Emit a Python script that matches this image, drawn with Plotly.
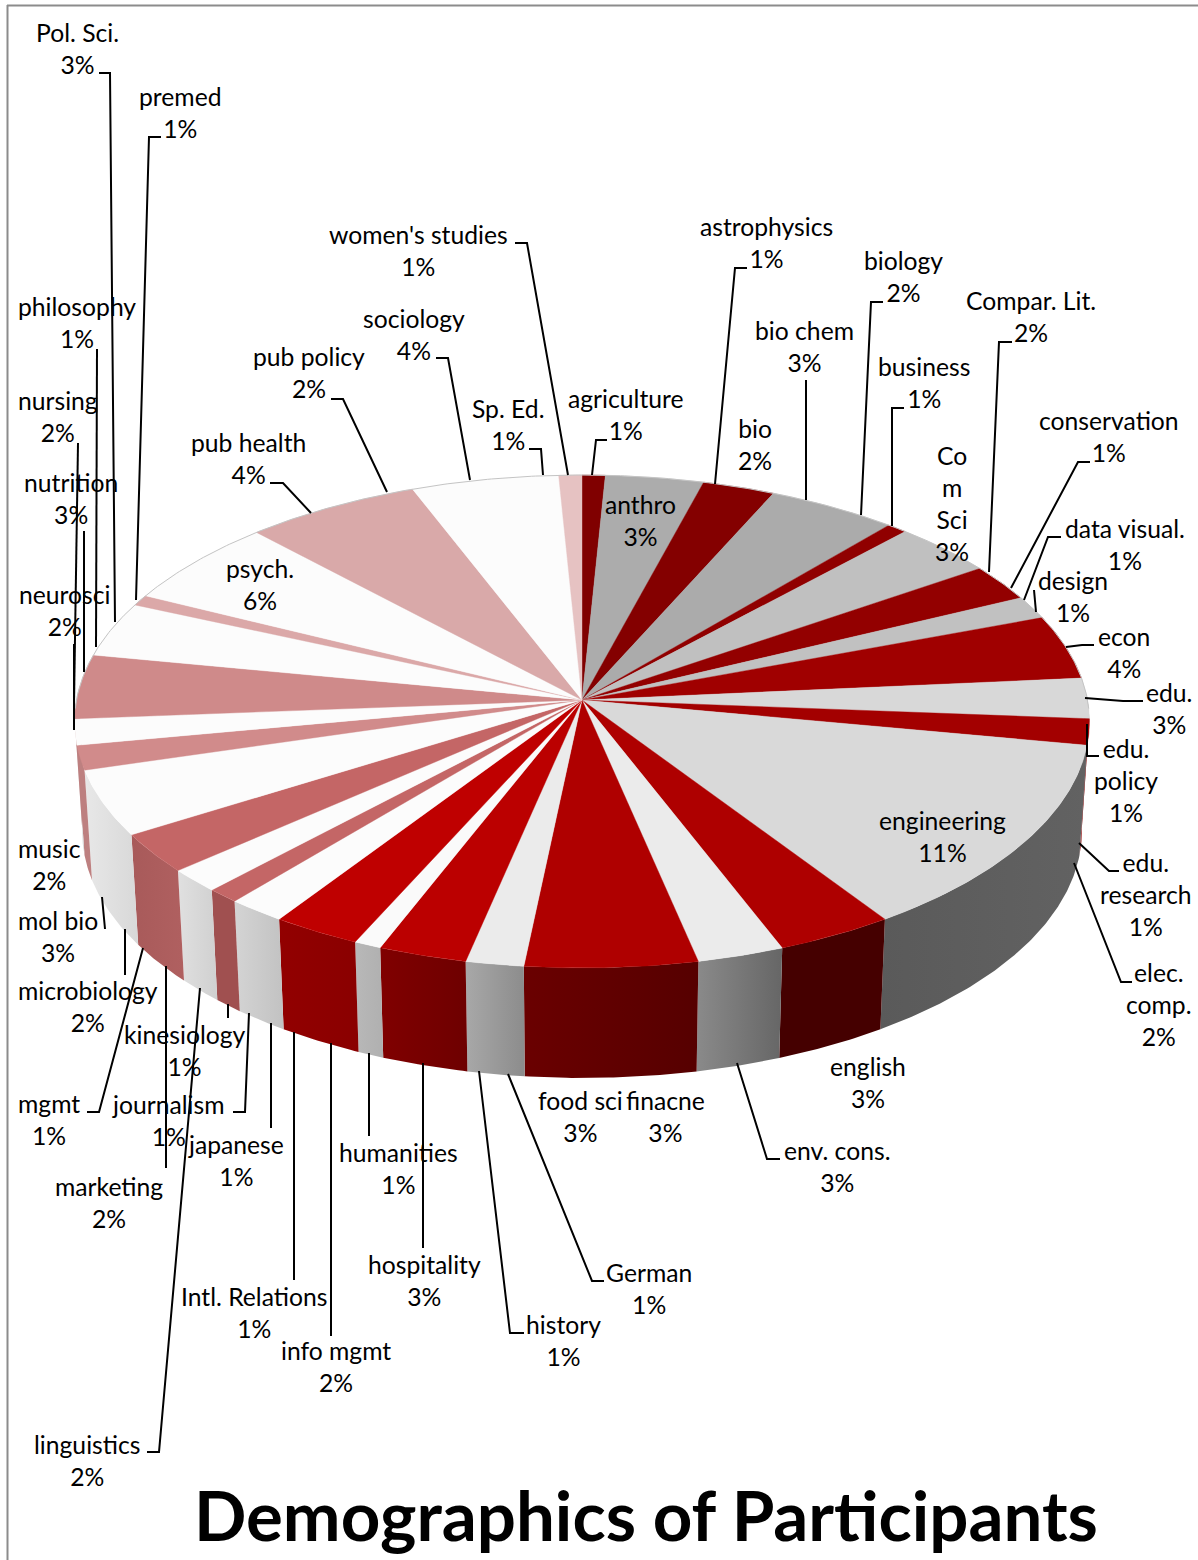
import math
import plotly.graph_objects as go

# ---------- data ----------
categories = ["agriculture","anthro","astrophysics","bio","bio chem","biology","business","Com Sci",
    "Compar. Lit.","conservation","data visual.","design","econ","edu.","edu. policy","edu. research",
    "elec. comp.","engineering","english","env. cons.","finacne","food sci","German","history",
    "hospitality","humanities","info mgmt","Intl. Relations","japanese","journalism","kinesiology",
    "linguistics","marketing","mgmt","microbiology","mol bio","music","neurosci","nursing","nutrition",
    "philosophy","Pol. Sci.","premed","psych.","pub health","pub policy","sociology","Sp. Ed.","women's studies"]
values = [0.8,3.4,1.0,1.5,2.6,1.9,0.7,3.55,1.7,0.7,0.8,0.7,4.2,2.65,1.7,0.6,1.3,10.8,3.45,2.55,2.55,2.5,0.9,0.8,
    2.6,0.8,1.6,1.0,0.9,0.8,0.95,1.55,1.7,0.9,2.0,2.3,1.6,1.7,1.8,2.4,1.0,2.6,0.7,5.7,4.2,1.9,4.0,1.1,0.8]
percent_labels = [1,3,1,2,3,2,1,3,2,1,1,1,4,3,1,1,2,11,3,3,3,3,1,1,3,1,2,1,1,1,1,2,2,1,2,3,2,2,2,3,1,3,1,6,4,2,4,1,1]

# ---------- styles ----------
top_colors = ["#800000","#acacac","#840000","#840000","#ababab","#ababab","#900000","#c0c0c0",
    "#930000","#930000","#c1c1c1","#c1c1c1","#a00000","#d8d8d8","#a30000","#d9d9d9","#d9d9d9","#d9d9d9",
    "#ae0000","#ebebeb","#af0000","#af0000","#ebebeb","#ebebeb","#bb0000","#fafafa","#bf0000","#bf0000",
    "#fcfcfc","#fcfcfc","#c46666","#fcfcfc","#c46666","#c46666","#fcfcfc","#fcfcfc","#d18b8b","#fcfcfc",
    "#cf8a8a","#cf8a8a","#fcfcfc","#fcfcfc","#dba8a8","#fcfcfc","#d9a9a9","#d9a9a9","#fcfcfc","#fcfcfc","#e6c2c2"]
side_by_top = {
    "#a00000":("#8a0000","#8a0000"), "#d8d8d8":("#b0b0b0","#b0b0b0"), "#a30000":("#8a0000","#8a0000"),
    "#d9d9d9":("#5a5a5a","#626262"), "#ae0000":("#450000","#450000"), "#af0000":("#6a0000","#560000"),
    "#bb0000":("#800000","#6e0000"), "#fafafa":("#b8b8b8","#b0b0b0"), "#bf0000":("#920000","#8a0000"),
    "#c46666":("#a55858","#a55858"), "#d18b8b":("#bd8080","#bd8080"), "#cf8a8a":("#bd8080","#bd8080"),
    "#fcfcfc":("#e2e2e2","#d2d2d2"),
}
side_special = {"env. cons.":("#8a8a8a","#666666"), "German":("#a8a8a8","#8c8c8c"),
                "japanese":("#d4d4d4","#c2c2c2"), "linguistics":("#e0e0e0","#d0d0d0"),
                "microbiology":("#e8e8e8","#d8d8d8"), "kinesiology":("#a05050","#a05050"),
                "marketing":("#a85a5a","#b06060")}

# ---------- layout of the pie (perspective view of a disc) ----------
CX, CY, BX, AY, K, DEPTH, SHRINK = 582.0, 700.0, 505.5, 244.6, 0.0872, 110.0, 0.985

def rim(theta_deg, lower=False):
    t = math.radians(theta_deg)
    u, v = math.sin(t), -math.cos(t)
    w = 1 - K * v
    x, y = CX + BX * u / w, CY + AY * v / w
    if lower:
        x, y = CX + SHRINK * (x - CX), y + DEPTH
    return x, y

def arc(a, b, lower=False):
    n = max(2, int(abs(b - a) / 0.5) + 1)
    return [rim(a + (b - a) * i / n, lower) for i in range(n + 1)]

total = sum(values)
groups, cum = [], 0.0
for name, val, col in zip(categories, values, top_colors):
    a = cum / total * 360
    cum += val
    b = cum / total * 360
    if groups and groups[-1]["col"] == col:
        groups[-1]["b"] = b
    else:
        groups.append({"name": name, "col": col, "a": a, "b": b})

fig = go.Figure()

# side walls
for g in groups:
    a, b = max(g["a"], 88), min(g["b"], 272)
    if b <= a:
        continue
    pts = arc(a, b) + arc(b, a, lower=True)
    left, right = side_special.get(g["name"], side_by_top.get(g["col"], ("#888888", "#888888")))
    fig.add_trace(go.Scatter(x=[p[0] for p in pts], y=[p[1] for p in pts], mode="lines", fill="toself",
        line=dict(width=0), hoverinfo="skip",
        fillgradient=dict(type="horizontal", colorscale=[[0, left], [1, right]])))

# top faces
for g in groups:
    pts = [(CX, CY)] + arc(g["a"], g["b"]) + [(CX, CY)]
    fig.add_trace(go.Scatter(x=[p[0] for p in pts], y=[p[1] for p in pts], mode="lines", fill="toself",
        fillcolor=g["col"], line=dict(width=0.4, color=g["col"]), text=g["name"], hoverinfo="text"))

# faint rim outline on the back half
rim_pts = arc(-92, 92)
fig.add_trace(go.Scatter(x=[p[0] for p in rim_pts], y=[p[1] for p in rim_pts], mode="lines",
    line=dict(width=1, color="#c4c4c4"), hoverinfo="skip"))

# ---------- callouts ----------
leader_paths = [
    [(99,73),(110,73),(115,622)], [(161,137),(149,137),(136,600)], [(97,349),(96,647)],
    [(78,443),(74,704)], [(84,531),(84,672)], [(74,644),(74,730)], [(102,897),(105,929)],
    [(125,929),(125,975)], [(87,1112),(99,1112),(143,948)], [(166,966),(166,1168)],
    [(147,1452),(159,1452),(200,988)], [(228,1004),(228,1018)], [(233,1112),(245,1112),(249,1013)],
    [(271,1023),(271,1128)], [(294,1032),(294,1280)], [(331,1043),(331,1336)], [(369,1053),(369,1136)],
    [(423,1063),(423,1248)], [(479,1071),(510,1333),(524,1333)], [(508,1074),(592,1281),(604,1281)],
    [(737,1063),(767,1159),(780,1159)], [(1074,863),(1121,982),(1132,982)], [(1079,843),(1109,871),(1119,871)],
    [(1087,724),(1087,756),(1099,756)], [(1085,698),(1123,701),(1143,701)], [(1066,647),(1082,645),(1094,645)],
    [(1034,590),(1036,612)], [(1061,537),(1048,537),(1024,600)], [(1090,462),(1078,462),(1011,588)],
    [(1012,342),(999,342),(989,572)], [(904,408),(892,408),(892,526)], [(883,302),(871,302),(861,515)],
    [(806,380),(806,500)], [(747,268),(735,268),(715,484)], [(607,440),(596,440),(592,475)],
    [(529,449),(541,449),(543,475)], [(515,243),(527,243),(568,475)], [(436,358),(448,358),(470,480)],
    [(331,399),(343,399),(387,492)], [(270,483),(283,483),(311,513)],
]
for path in leader_paths:
    fig.add_trace(go.Scatter(x=[p[0] for p in path], y=[p[1] for p in path], mode="lines",
        line=dict(width=2, color="#000000"), hoverinfo="skip"))

label_pos = {
 "Pol. Sci.":(77,48),"premed":(180,112),"women's studies":(418,250),"astrophysics":(766,242),"biology":(903,276),
 "Compar. Lit.":(1031,316),"bio chem":(804,346),"business":(924,382),"sociology":(414,334),"pub policy":(309,372),
 "philosophy":(77,322),"Sp. Ed.":(508,424),"agriculture":(626,414),"bio":(755,444),"nursing":(58,416),
 "conservation":(1109,436),"pub health":(248,458),"Com Sci":(952,503),"nutrition":(71,498),"anthro":(640,520),
 "data visual.":(1125,544),"psych.":(260,584),"design":(1073,596),"neurosci":(64,610),"econ":(1124,652),
 "edu.":(1169,708),"edu. policy":(1126,780),"engineering":(942,836),"music":(49,864),"edu. research":(1146,894),
 "mol bio":(58,936),"elec. comp.":(1159,1004),"microbiology":(88,1006),"kinesiology":(184,1050),"english":(868,1082),
 "mgmt":(49,1119),"journalism":(168,1120),"food sci":(580,1116),"finacne":(665,1116),"env. cons.":(837,1166),
 "japanese":(236,1160),"humanities":(398,1168),"marketing":(109,1202),"hospitality":(424,1280),"German":(649,1288),
 "Intl. Relations":(254,1312),"history":(563,1340),"info mgmt":(336,1366),"linguistics":(87,1460),
}
wrapped = {"Com Sci":"Co<br>m<br>Sci", "edu. policy":"edu.<br>policy", "edu. research":"edu.<br>research",
           "elec. comp.":"elec.<br>comp."}
for name, pct in zip(categories, percent_labels):
    x, y = label_pos[name]
    fig.add_annotation(x=x, y=y, text=f"{wrapped.get(name, name)}<br>{pct}%", showarrow=False, xref="x", yref="y",
        xanchor="center", yanchor="middle", align="center", font=dict(family="Lato", size=24.7, color="#000000"))

fig.add_annotation(x=646, y=1514, text="<b>Demographics of Participants</b>", showarrow=False, xref="x", yref="y",
    xanchor="center", yanchor="middle", font=dict(family="Lato", size=69, color="#000000"))

# chart frame
fig.add_shape(type="line", x0=7.5, x1=7.5, y0=5, y1=1560, line=dict(color="#8c8c8c", width=2), xref="x", yref="y")
fig.add_shape(type="line", x0=7, x1=1198, y0=5.5, y1=5.5, line=dict(color="#8c8c8c", width=2), xref="x", yref="y")

fig.update_layout(width=1198, height=1560, margin=dict(l=0, r=0, t=0, b=0), showlegend=False,
    paper_bgcolor="#ffffff", plot_bgcolor="#ffffff",
    xaxis=dict(range=[0, 1198], visible=False, fixedrange=True),
    yaxis=dict(range=[1560, 0], visible=False, fixedrange=True))

fig.write_html("out.html", config={"displayModeBar": False},
    post_script="document.body.style.margin='0';document.body.style.overflow='hidden';")
